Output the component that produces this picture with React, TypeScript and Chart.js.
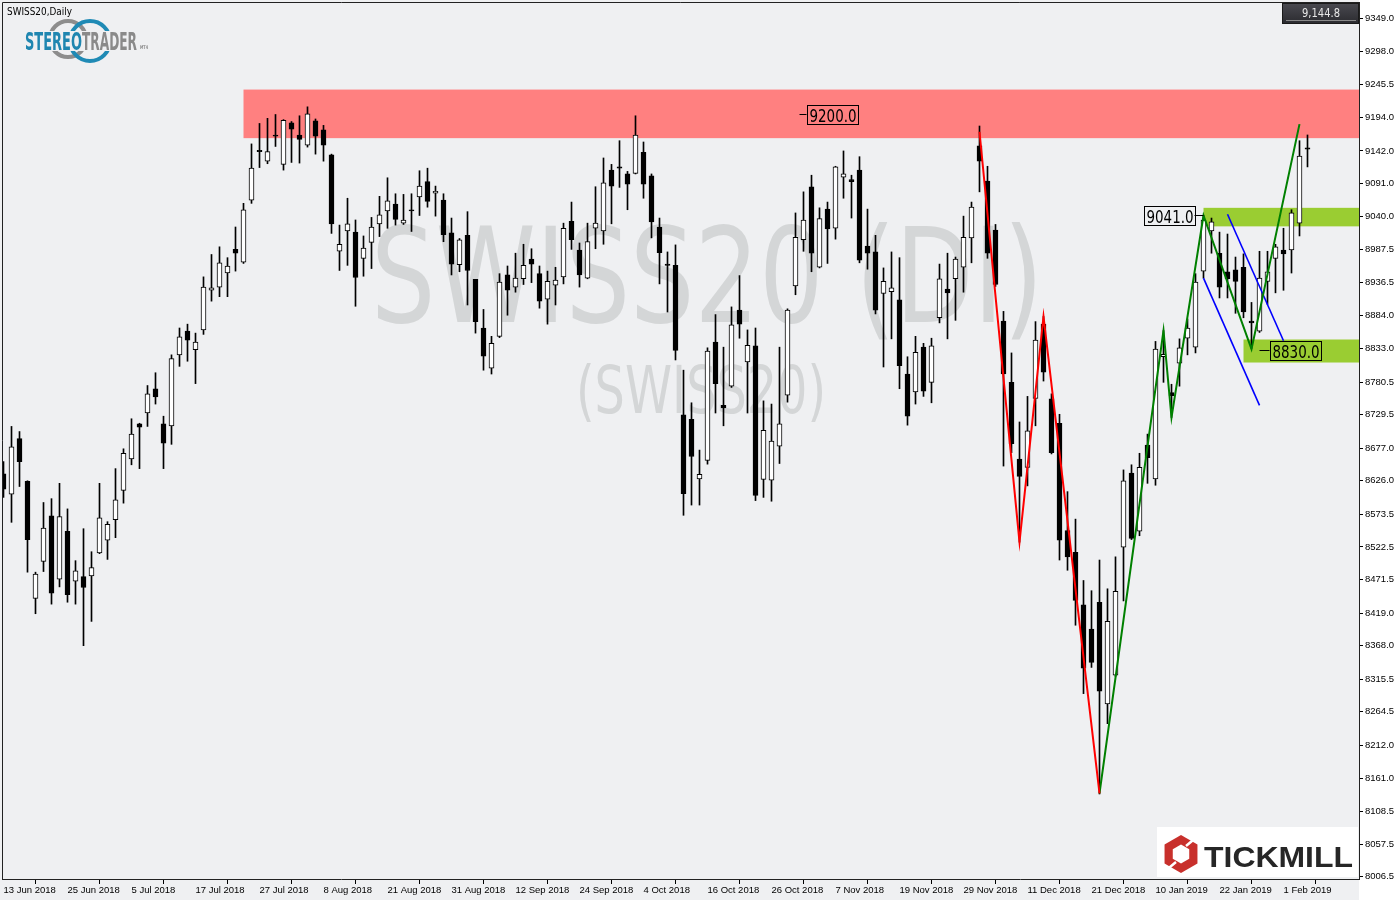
import React, { useEffect, useRef } from 'react';
import { Chart, registerables } from 'chart.js';

Chart.register(...registerables);

// ---- OHLC data (daily bars, 13 Jun 2018 .. 6 Feb 2019) ----
const opens = [
  8637, 8605, 8692, 8625, 8442, 8500, 8571, 8472, 8547, 8469, 8476, 8477, 8513, 8533, 8565, 8611, 8660, 8715, 8732, 8770,
  8715, 8712, 8823, 8860, 8831, 8862, 8924, 8929, 8951, 8988, 8968, 9065, 9143, 9126, 9167, 9121, 9186, 9167, 9151, 9189,
  9175, 9136, 8985, 9017, 9015, 8974, 8999, 9028, 9048, 9059, 9029, 9050, 9070, 9094, 9076, 9065, 9014, 8964, 9010, 8941,
  8865, 8802, 8852, 8948, 8929, 8942, 8973, 8950, 8910, 8932, 8945, 9032, 8987, 8943, 9021, 9017, 9112, 9117, 9106, 9107,
  9140, 9103, 9023, 8965, 8963, 8729, 8722, 8629, 8658, 8843, 8744, 8774, 8893, 8812, 8837, 8628, 8627, 8680, 8760, 8931,
  9003, 9086, 8960, 9051, 9021, 9101, 9097, 9112, 8993, 8984, 8919, 8922, 8909, 8793, 8765, 8835, 8780, 8881, 8926, 8942,
  8960, 9006, 9150, 9095, 9018, 8876, 8780, 8660, 8647, 8755, 8871, 8754, 8716, 8548, 8514, 8432, 8394, 8436, 8277, 8322,
  8522, 8638, 8547, 8682, 8629, 8820, 8764, 8810, 8849, 8835, 8954, 9017, 8982, 8953, 8956, 8960, 8876, 8860, 8938, 8974,
  8987, 8987, 9029, 9147,
];
const highs = [
  8656, 8711, 8703, 8626, 8483, 8592, 8598, 8622, 8582, 8501, 8551, 8515, 8622, 8562, 8645, 8676, 8723, 8716, 8775, 8795,
  8727, 8823, 8865, 8871, 8857, 8945, 8980, 8992, 8975, 9023, 9060, 9153, 9185, 9193, 9199, 9191, 9188, 9197, 9211, 9192,
  9182, 9137, 9026, 9068, 9034, 9009, 9038, 9071, 9100, 9075, 9074, 9075, 9111, 9115, 9087, 9075, 9037, 9005, 9047, 8941,
  8894, 8852, 8950, 8962, 8982, 8996, 8989, 8962, 8954, 8960, 9029, 9062, 8998, 9029, 9086, 9131, 9121, 9158, 9110, 9197,
  9156, 9106, 9037, 8984, 8995, 8799, 8748, 8674, 8834, 8886, 8835, 8898, 8947, 8862, 8865, 8751, 8746, 8835, 8895, 9045,
  9078, 9104, 9053, 9062, 9118, 9142, 9104, 9133, 9051, 9010, 8959, 8984, 8975, 8820, 8852, 8841, 8849, 8965, 8982, 8976,
  9040, 9062, 9181, 9118, 9027, 8891, 8826, 8718, 8758, 8875, 8883, 8762, 8730, 8609, 8566, 8470, 8454, 8502, 8457, 8507,
  8643, 8651, 8669, 8699, 8844, 8861, 8777, 8848, 8879, 8950, 9041, 9037, 9015, 9012, 8976, 8981, 8905, 8985, 8985, 8996,
  9021, 9050, 9158, 9167,
];
const lows = [
  8600, 8561, 8617, 8483, 8418, 8484, 8433, 8460, 8436, 8433, 8368, 8406, 8512, 8503, 8537, 8591, 8651, 8645, 8711, 8746,
  8645, 8683, 8805, 8813, 8778, 8855, 8907, 8914, 8914, 8954, 8966, 9060, 9116, 9122, 9149, 9112, 9124, 9123, 9148, 9137,
  9126, 9013, 8955, 8963, 8899, 8946, 8958, 9008, 9021, 9026, 9027, 9016, 9041, 9054, 9040, 9000, 8948, 8953, 8901, 8857,
  8799, 8793, 8850, 8885, 8921, 8933, 8936, 8896, 8871, 8901, 8934, 8988, 8929, 8942, 8989, 8996, 9028, 9085, 9050, 9106,
  9068, 9006, 8934, 8890, 8815, 8572, 8588, 8588, 8652, 8732, 8712, 8772, 8849, 8732, 8595, 8600, 8594, 8653, 8749, 8917,
  8985, 8953, 8959, 8966, 9004, 9068, 9037, 8967, 8957, 8887, 8804, 8848, 8770, 8713, 8746, 8758, 8748, 8873, 8848, 8877,
  8921, 8967, 9078, 8974, 8930, 8649, 8670, 8530, 8618, 8712, 8782, 8668, 8502, 8486, 8400, 8293, 8334, 8136, 8246, 8320,
  8438, 8534, 8540, 8622, 8619, 8780, 8725, 8774, 8823, 8826, 8943, 8982, 8912, 8912, 8888, 8881, 8833, 8858, 8902, 8920,
  8924, 8951, 9009, 9117,
];
const closes = [
  8613, 8679, 8656, 8534, 8480, 8552, 8450, 8570, 8448, 8485, 8459, 8490, 8568, 8558, 8596, 8669, 8699, 8710, 8762, 8757,
  8685, 8817, 8851, 8846, 8843, 8929, 8928, 8967, 8962, 8982, 9050, 9115, 9141, 9141, 9165, 9190, 9176, 9160, 9200, 9165,
  9151, 9028, 8996, 9028, 8944, 8990, 9023, 9042, 9064, 9035, 9034, 9048, 9087, 9063, 9079, 9011, 8965, 9003, 8955, 8875,
  8821, 8841, 8937, 8924, 8943, 8963, 8965, 8907, 8938, 8940, 9021, 9003, 8948, 9000, 9029, 9092, 9087, 9115, 9090, 9167,
  9090, 9031, 8983, 8963, 8830, 8606, 8664, 8636, 8829, 8778, 8740, 8870, 8871, 8838, 8603, 8705, 8688, 8715, 8893, 9007,
  9034, 8982, 9036, 9020, 9117, 9106, 9094, 8971, 8982, 8893, 8938, 8928, 8806, 8727, 8827, 8766, 8837, 8942, 8920, 8973,
  9007, 9054, 9126, 8982, 8933, 8793, 8684, 8633, 8704, 8846, 8796, 8670, 8533, 8507, 8439, 8333, 8342, 8297, 8406, 8453,
  8626, 8536, 8647, 8662, 8832, 8824, 8759, 8834, 8865, 8937, 9034, 9031, 8929, 8942, 8938, 8890, 8873, 8943, 8953, 8992,
  8981, 9045, 9134, 9144.8,
];

// ---- axis labels ----
const dateTickIndex = [0, 8, 16, 24, 32, 40, 48, 56, 64, 72, 80, 88, 96, 104, 112, 120, 128, 136, 144, 152, 160];
const dateTickLabels = [
  '13 Jun 2018', '25 Jun 2018', '5 Jul 2018', '17 Jul 2018', '27 Jul 2018', '8 Aug 2018', '21 Aug 2018',
  '31 Aug 2018', '12 Sep 2018', '24 Sep 2018', '4 Oct 2018', '16 Oct 2018', '26 Oct 2018', '7 Nov 2018',
  '19 Nov 2018', '29 Nov 2018', '11 Dec 2018', '21 Dec 2018', '10 Jan 2019', '22 Jan 2019', '1 Feb 2019',
];
const priceTicks = [
  9349.0, 9298.0, 9245.5, 9194.0, 9142.0, 9091.0, 9040.0, 8987.5, 8936.5, 8884.0, 8833.0, 8780.5, 8729.5, 8677.0,
  8626.0, 8573.5, 8522.5, 8471.5, 8419.0, 8368.0, 8315.5, 8264.5, 8212.0, 8161.0, 8108.5, 8057.5, 8006.5,
];

// ---- drawn analysis objects (bar index, price) ----
const redWaveBars = [122, 127, 130, 137];
const redWavePrices = [9172, 8530, 8883, 8137];
const greenWaveBars = [137, 145, 146, 150, 156, 162];
const greenWavePrices = [8137, 8861, 8725, 9041, 8832, 9184];
const blueUpperBars = [153, 160];
const blueUpperPrices = [9043, 8845];
const blueLowerBars = [150, 157];
const blueLowerPrices = [8943, 8744];

const resistanceZone = [9162, 9238];
const resistanceFromBar = 30;
const upperSupportZone = [9024, 9053];
const upperSupportFromBar = 150;
const lowerSupportZone = [8811, 8847];
const lowerSupportFromBar = 155;

const levelValues = [9200.0, 9041.0, 8830.0];
const levelAnchorBars = [99.5, 150, 157];
const lastPrice = 9144.8;

const NARROW = '"Liberation Sans Narrow", "DejaVu Sans Condensed", "Liberation Sans", sans-serif';
const AXIS_FONT = '"Liberation Sans", Arial, sans-serif';
const PLOT_BG = '#EFF0F2';

function fitText(ctx: CanvasRenderingContext2D, text: string, x: number, y: number, width: number, font: string, color: string, center = false) {
  ctx.save();
  ctx.font = font;
  ctx.textAlign = 'left';
  ctx.textBaseline = 'alphabetic';
  const w = ctx.measureText(text).width;
  const s = width / w;
  ctx.translate(x, y);
  ctx.scale(s, 1);
  ctx.fillStyle = color;
  ctx.fillText(text, center ? -w / 2 : 0, 0);
  ctx.restore();
}

function hexPath(ctx: CanvasRenderingContext2D, cx: number, cy: number, r: number) {
  ctx.beginPath();
  for (let k = 0; k < 6; k++) {
    const a = Math.PI / 2 + (k * Math.PI) / 3;
    const px = cx + r * Math.cos(a);
    const py = cy - r * Math.sin(a);
    if (k === 0) ctx.moveTo(px, py);
    else ctx.lineTo(px, py);
  }
  ctx.closePath();
}

const backgroundPlugin = {
  id: 'bg',
  beforeDraw(chart: any) {
    const { ctx, chartArea } = chart;
    ctx.save();
    ctx.fillStyle = PLOT_BG;
    ctx.fillRect(0, 0, chart.width, chart.height);
    ctx.fillStyle = '#ffffff';
    ctx.fillRect(chartArea.right, 0, chart.width - chartArea.right, chart.height);
    ctx.restore();
  },
};

const overlayPlugin = {
  id: 'overlay',
  beforeDatasetsDraw(chart: any) {
    const { ctx, chartArea } = chart;
    const xs = chart.scales.x;
    const ys = chart.scales.y;
    ctx.save();
    ctx.beginPath();
    ctx.rect(chartArea.left, chartArea.top, chartArea.right - chartArea.left, chartArea.bottom - chartArea.top);
    ctx.clip();

    // watermark
    fitText(ctx, 'SWISS20 (DI)', 707, 322, 672, '131px ' + NARROW, '#D4D6D7', true);
    fitText(ctx, '(SWISS20)', 701, 413, 250, '66px ' + NARROW, '#D4D6D7', true);

    // zones
    const zone = (range: number[], fromBar: number, color: string) => {
      const x0 = xs.getPixelForValue(fromBar);
      const yTop = ys.getPixelForValue(range[1]);
      const yBot = ys.getPixelForValue(range[0]);
      ctx.fillStyle = color;
      ctx.fillRect(x0, yTop, chartArea.right - x0, yBot - yTop);
    };
    zone(resistanceZone, resistanceFromBar, '#FF8080');
    zone(upperSupportZone, upperSupportFromBar, '#9ACD32');
    zone(lowerSupportZone, lowerSupportFromBar, '#9ACD32');
    ctx.restore();
  },
  afterDatasetsDraw(chart: any) {
    const { ctx, chartArea } = chart;
    const xs = chart.scales.x;
    const ys = chart.scales.y;
    ctx.save();

    // level labels
    const sides = ['right', 'left', 'right'];
    const gaps = [7, 9, 10];
    levelValues.forEach((v, i) => {
      const ax = xs.getPixelForValue(levelAnchorBars[i]);
      const ay = Math.round(ys.getPixelForValue(v)) + 0.5;
      const boxW = 51;
      const boxH = 19;
      const bx = sides[i] === 'right' ? ax + gaps[i] : ax - gaps[i] - boxW;
      ctx.strokeStyle = '#000';
      ctx.lineWidth = 1;
      ctx.beginPath();
      if (sides[i] === 'right') {
        ctx.moveTo(ax, ay);
        ctx.lineTo(bx, ay);
      } else {
        ctx.moveTo(bx + boxW, ay);
        ctx.lineTo(ax, ay);
      }
      ctx.stroke();
      const by = Math.round(ay - boxH / 2) + 0.5;
      ctx.strokeRect(Math.round(bx) + 0.5, by, boxW, boxH);
      fitText(ctx, v.toFixed(1), Math.round(bx) + 2.5, by + 16, 47, '18px ' + NARROW, '#000');
    });

    // frame (left & top)
    ctx.strokeStyle = '#222';
    ctx.lineWidth = 1;
    ctx.beginPath();
    ctx.moveTo(chartArea.left + 0.5, chartArea.bottom);
    ctx.lineTo(chartArea.left + 0.5, chartArea.top + 0.5);
    ctx.lineTo(chartArea.right, chartArea.top + 0.5);
    ctx.stroke();

    // title
    fitText(ctx, 'SWISS20,Daily', 7, 15, 65, '11px ' + NARROW, '#000');

    // StereoTrader logo
    ctx.lineWidth = 4;
    ctx.strokeStyle = '#8D8D8D';
    ctx.beginPath();
    ctx.arc(68, 39, 18, 0, Math.PI * 2);
    ctx.stroke();
    ctx.strokeStyle = '#1F8AB5';
    ctx.beginPath();
    ctx.arc(90, 41, 20, 0, Math.PI * 2);
    ctx.stroke();
    ctx.fillStyle = PLOT_BG;
    ctx.fillRect(24, 31, 118, 20);
    fitText(ctx, 'STEREO', 25, 50, 57, 'bold 25px ' + NARROW, '#1F86B0');
    fitText(ctx, 'TRADER', 82, 50, 55, 'bold 25px ' + NARROW, '#8A8A8A');
    fitText(ctx, 'MT4', 140, 49, 8, 'bold 5px ' + NARROW, '#8A8A8A');

    // last price box
    const pbx = chartArea.right - 77;
    const grd = ctx.createLinearGradient(0, 3, 0, 24);
    grd.addColorStop(0, '#4A4A50');
    grd.addColorStop(1, '#2A2A2F');
    ctx.fillStyle = grd;
    ctx.fillRect(pbx, 3, 77, 21);
    ctx.strokeStyle = '#1A1A1A';
    ctx.lineWidth = 1;
    ctx.strokeRect(pbx + 0.5, 3.5, 76, 20);
    ctx.strokeStyle = '#8A8A8A';
    ctx.beginPath();
    ctx.moveTo(pbx + 4, 20.5);
    ctx.lineTo(pbx + 74, 20.5);
    ctx.stroke();
    const lp = lastPrice.toLocaleString('en-US', { minimumFractionDigits: 1, maximumFractionDigits: 1 });
    fitText(ctx, lp, pbx + 39, 17, 38, '12px ' + NARROW, '#E8E8E8', true);

    // Tickmill logo
    ctx.fillStyle = '#ffffff';
    ctx.fillRect(1157, 827, 201, 50);
    ctx.fillStyle = '#C8302C';
    hexPath(ctx, 1181, 854, 19);
    ctx.fill();
    ctx.fillStyle = '#ffffff';
    hexPath(ctx, 1181, 854, 9.5);
    ctx.fill();
    ctx.strokeStyle = '#ffffff';
    ctx.lineWidth = 2.5;
    ctx.beginPath();
    ctx.moveTo(1186, 846);
    ctx.lineTo(1198, 836);
    ctx.moveTo(1176, 862);
    ctx.lineTo(1164, 872);
    ctx.stroke();
    fitText(ctx, 'TICKMILL', 1204, 867, 149, 'bold 30px "Liberation Sans", Arial, sans-serif', '#262626');

    ctx.restore();
  },
};

export default function App() {
  const ref = useRef<HTMLCanvasElement | null>(null);

  useEffect(() => {
    if (!ref.current) return;
    const line = (bars: number[], prices: number[], color: string, width: number) => ({
      type: 'line' as const,
      data: bars.map((b, i) => ({ x: b, y: prices[i] })),
      borderColor: color,
      backgroundColor: color,
      borderWidth: width,
      pointRadius: 0,
      tension: 0,
      fill: false,
      order: 0,
    });
    const chart = new Chart(ref.current, {
      type: 'bar',
      data: {
        datasets: [
          line(redWaveBars, redWavePrices, '#FF0000', 2),
          line(greenWaveBars, greenWavePrices, '#008000', 2),
          line(blueUpperBars, blueUpperPrices, '#0000FF', 1.6),
          line(blueLowerBars, blueLowerPrices, '#0000FF', 1.6),
          {
            type: 'bar',
            data: opens.map((o, i) => ({ x: i, y: [o, closes[i]] })) as any,
            backgroundColor: opens.map((o, i) => (closes[i] >= o ? '#FFFFFF' : '#000000')),
            borderColor: '#000000',
            borderWidth: 1,
            borderSkipped: false,
            barThickness: 5,
            grouped: false,
            order: 1,
          },
          {
            type: 'bar',
            data: lows.map((l, i) => ({ x: i, y: [l, highs[i]] })) as any,
            backgroundColor: '#000000',
            borderWidth: 0,
            barThickness: 1,
            grouped: false,
            order: 2,
          },
        ] as any,
      },
      options: {
        animation: false,
        responsive: false,
        maintainAspectRatio: false,
        layout: { padding: { left: 2, top: 2, right: 0, bottom: 0 } },
        plugins: { legend: { display: false }, tooltip: { enabled: false } },
        scales: {
          x: {
            type: 'linear',
            min: -0.1875,
            max: 169.4375,
            offset: false,
            afterBuildTicks: (s: any) => {
              s.ticks = dateTickIndex.map((v) => ({ value: v }));
            },
            afterFit: (s: any) => {
              s.height = 21;
              s.paddingLeft = 0;
              s.paddingRight = 0;
            },
            ticks: {
              autoSkip: false,
              maxRotation: 0,
              minRotation: 0,
              align: 'start',
              padding: 1,
              color: '#000',
              font: { family: AXIS_FONT, size: 9.5 },
              callback: (_v: any, i: number) => dateTickLabels[i],
            },
            grid: { drawOnChartArea: false, drawTicks: true, tickLength: 5, color: '#000', tickColor: '#000' },
            border: { display: true, color: '#222', width: 1 },
          },
          y: {
            type: 'linear',
            position: 'right',
            min: 8003,
            max: 9375,
            afterBuildTicks: (s: any) => {
              s.ticks = priceTicks.map((v) => ({ value: v }));
            },
            afterFit: (s: any) => {
              s.width = 41;
              s.paddingTop = 0;
              s.paddingBottom = 0;
            },
            ticks: {
              padding: 2,
              color: '#000',
              font: { family: AXIS_FONT, size: 9.5 },
              callback: (v: any) => Number(v).toFixed(1),
            },
            grid: { drawOnChartArea: false, drawTicks: true, tickLength: 4, color: '#000', tickColor: '#000' },
            border: { display: true, color: '#222', width: 1 },
          },
        },
      } as any,
      plugins: [backgroundPlugin, overlayPlugin],
    });
    return () => chart.destroy();
  }, []);

  return (
    <div style={{ position: 'absolute', left: 0, top: 0, width: 1400, height: 900 }}>
      <canvas ref={ref} width={1400} height={900} style={{ display: 'block' }} />
    </div>
  );
}
